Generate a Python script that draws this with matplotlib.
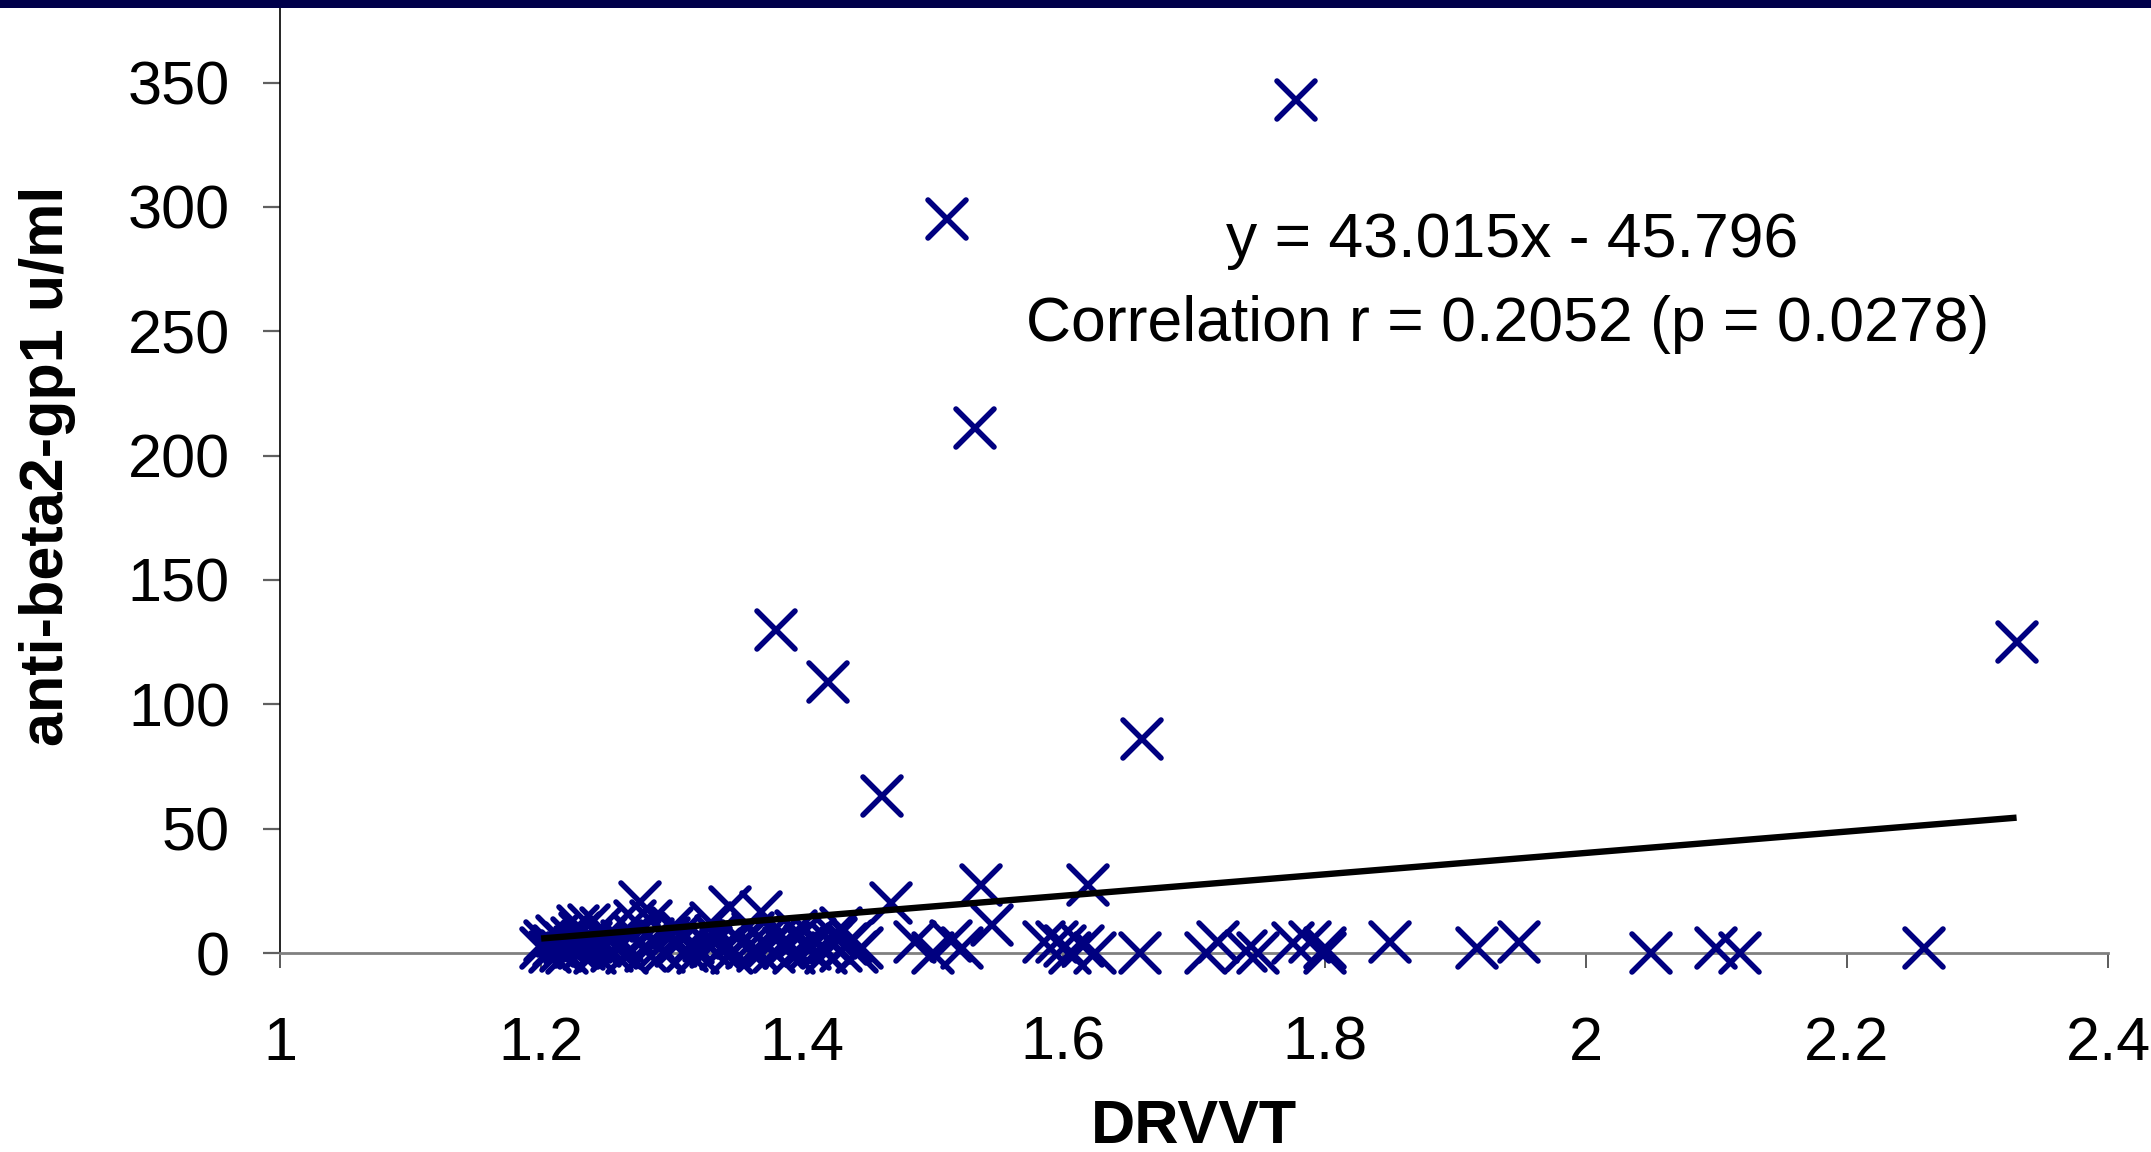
import matplotlib
matplotlib.use("Agg")
import matplotlib.pyplot as plt
import numpy as np
from matplotlib.markers import MarkerStyle
from matplotlib.patches import Rectangle

plt.rcParams['font.family'] = ['Liberation Sans', 'DejaVu Sans']

# DRVVT ratio vs anti-beta2-gp1 (u/ml)
drvvt = [
    # high values
    1.778, 1.511, 1.532, 1.380, 1.420, 1.461, 1.660, 2.330,
    # moderate values
    1.276, 1.345, 1.368, 1.468, 1.537, 1.545, 1.619,
    1.228, 1.237, 1.246, 1.272, 1.284, 1.300, 1.330, 1.395, 1.430,
    # low values beyond the main cluster
    1.486, 1.500, 1.514, 1.522, 1.585, 1.595, 1.601, 1.605, 1.615, 1.624,
    1.659, 1.709, 1.718, 1.740, 1.749, 1.776, 1.789, 1.800, 1.800, 1.850,
    1.917, 1.949, 2.050, 2.100, 2.118, 2.259,
    # main cluster
    1.200, 1.203, 1.207, 1.210, 1.212, 1.215, 1.218, 1.220, 1.224, 1.226,
    1.230, 1.233, 1.238, 1.241, 1.245, 1.250, 1.254, 1.258, 1.262, 1.266,
    1.270, 1.275, 1.280, 1.286, 1.290, 1.294, 1.298, 1.303, 1.308, 1.312,
    1.316, 1.320, 1.325, 1.330, 1.334, 1.338, 1.342, 1.346, 1.350, 1.354,
    1.358, 1.362, 1.366, 1.370, 1.374, 1.378, 1.382, 1.386, 1.390, 1.394,
    1.398, 1.402, 1.406, 1.410, 1.414, 1.418, 1.422, 1.426, 1.430, 1.434,
    1.438, 1.442, 1.446,
]
anti_b2gp1 = [
    343.0, 295.0, 211.0, 130.0, 109.0, 63.0, 86.0, 125.0,
    20.6, 18.6, 16.6, 20.2, 27.3, 11.3, 27.3,
    11.0, 11.3, 10.0, 13.0, 13.0, 10.0, 12.0, 9.0, 10.0,
    4.5, 0.0, 5.0, 2.0, 4.5, 4.5, 3.0, 0.0, 3.0, 0.0,
    0.0, 0.0, 4.5, 1.0, 0.0, 4.1, 4.5, 2.0, 0.0, 4.5,
    1.9, 4.5, 0.0, 1.9, 0.0, 1.9,
    2.0, 5.0, 0.5, 3.0, 7.0, 1.0, 4.0, 0.0, 6.0, 2.5,
    8.0, 1.5, 4.5, 0.0, 3.0, 6.5, 1.0, 2.0, 5.0, 0.0,
    7.5, 3.5, 1.0, 5.5, 2.0, 0.5, 6.0, 3.0, 8.0, 1.0,
    4.0, 0.0, 5.0, 2.5, 7.0, 1.5, 3.5, 0.0, 6.0, 4.5,
    2.0, 8.0, 1.0, 5.0, 3.0, 0.5, 6.5, 2.0, 4.0, 0.0,
    7.0, 3.0, 1.5, 5.5, 2.5, 0.0, 4.0, 6.0, 1.0, 3.5,
    5.0, 0.5, 2.0,
]

slope = 43.015
intercept = -45.796
x_ticks = [1, 1.2, 1.4, 1.6, 1.8, 2, 2.2, 2.4]
x_tick_labels = ["1", "1.2", "1.4", "1.6", "1.8", "2", "2.2", "2.4"]
y_ticks = [0, 50, 100, 150, 200, 250, 300, 350]

W, H = 2151, 1152
fig = plt.figure(figsize=(W / 100, H / 100), dpi=100)
fig.patch.set_facecolor("white")

# thin navy band along the top edge
fig.add_artist(Rectangle((0, 1 - 8 / H), 1, 8 / H, transform=fig.transFigure,
                         facecolor="#00004a", edgecolor="none"))

ax = fig.add_axes([280 / W, (H - 953) / H, (2108 - 280) / W, (953 - 8) / H])
ax.set_xlim(1, 2.4)
ax.set_ylim(0, 380)

marker = MarkerStyle("x", capstyle="round")
ax.plot(drvvt, anti_b2gp1, linestyle="none", marker=marker, markersize=28,
        markeredgewidth=4.0, color="#000080", clip_on=False, zorder=3)

# linear trend line across the observed DRVVT range
xs = np.array([min(drvvt), max(drvvt)])
ax.plot(xs, slope * xs + intercept, color="black", linewidth=4.6,
        solid_capstyle="butt", zorder=4)

for side in ("top", "right"):
    ax.spines[side].set_visible(False)
ax.spines["left"].set_color("black")
ax.spines["left"].set_linewidth(1.2)
ax.spines["bottom"].set_color("#808080")
ax.spines["bottom"].set_linewidth(2.0)

ax.set_xticks(x_ticks)
ax.set_xticklabels(x_tick_labels)
ax.set_yticks(y_ticks)
ax.tick_params(axis="x", direction="out", length=11, width=1.2, color="#404040",
               labelsize=44, pad=34)
ax.tick_params(axis="y", direction="out", length=12, width=1.6, color="#606060",
               labelsize=44, pad=24)

ax.set_xlabel("DRVVT", fontsize=44, fontweight="bold")
ax.xaxis.set_label_coords(0.5, (953 - 1143) / (953 - 8), transform=ax.transAxes)
ax.xaxis.label.set_va("baseline")
ax.set_ylabel("anti-beta2-gp1 u/ml", fontsize=44, fontweight="bold")
ax.yaxis.set_label_coords((48 - 280) / (2108 - 280), (953 - 466) / (953 - 8))
ax.yaxis.label.set_va("center")

fig.text(1512 / W, 1 - 257 / H, "y = 43.015x - 45.796", fontsize=45,
         ha="center", va="baseline")
fig.text(1508 / W, 1 - 341 / H, "Correlation r = 0.2052 (p = 0.0278)",
         fontsize=45, ha="center", va="baseline")

fig.savefig("out.png", dpi=100, facecolor="white")
